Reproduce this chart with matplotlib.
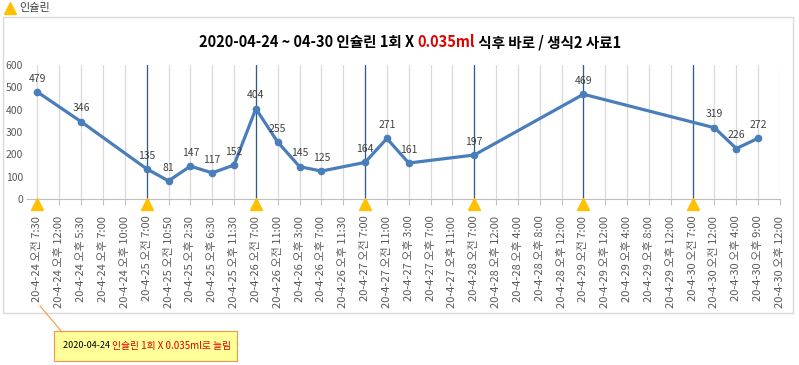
import matplotlib.pyplot as plt
from matplotlib.patches import Rectangle
from matplotlib.lines import Line2D
from matplotlib.text import Annotation

plt.rcParams['font.family'] = ['Noto Sans CJK KR', 'DejaVu Sans']

# x categories (time labels)
labels = [
    '20-4-24 오전 7:30', '20-4-24 오후 12:00', '20-4-24 오후 5:30', '20-4-24 오후 7:00',
    '20-4-24 오후 10:00', '20-4-25 오전 7:00', '20-4-25 오전 10:50', '20-4-25 오후 2:30',
    '20-4-25 오후 6:30', '20-4-25 오후 11:30', '20-4-26 오전 7:00', '20-4-26 오전 11:00',
    '20-4-26 오후 3:00', '20-4-26 오후 7:00', '20-4-26 오후 11:30', '20-4-27 오전 7:00',
    '20-4-27 오전 11:00', '20-4-27 오후 3:00', '20-4-27 오후 7:00', '20-4-27 오후 11:00',
    '20-4-28 오전 7:00', '20-4-28 오후 12:00', '20-4-28 오후 4:00', '20-4-28 오후 8:00',
    '20-4-28 오후 12:00', '20-4-29 오전 7:00', '20-4-29 오후 12:00', '20-4-29 오후 4:00',
    '20-4-29 오후 8:00', '20-4-29 오후 12:00', '20-4-30 오전 7:00', '20-4-30 오전 12:00',
    '20-4-30 오후 4:00', '20-4-30 오후 9:00', '20-4-30 오후 12:00',
]
# blood sugar readings (None = no reading)
glucose = [479, None, 346, None, None, 135, 81, 147, 117, 152, 404, 255, 145, 125, None,
           164, 271, 161, None, None, 197, None, None, None, None, 469, None, None, None,
           None, None, 319, 226, 272, None]
# insulin shots (category index)
insulin_idx = [0, 5, 10, 15, 20, 25, 30]

W, H = 799, 365
fig = plt.figure(figsize=(W / 100, H / 100), dpi=100)
ax = fig.add_axes([27 / W, 1 - 199 / H, (780 - 27) / W, (199 - 65) / H])

x = list(range(len(labels)))
# light vertical gridlines at every category
for i in x:
    ax.axvline(i, color='#d9d9d9', lw=0.9, zorder=0)
# dark lines at insulin shots
for i in insulin_idx:
    if i > 0:
        ax.axvline(i, color='#2e5c8a', lw=0.9, zorder=1)

px = [i for i, v in zip(x, glucose) if v is not None]
py = [v for v in glucose if v is not None]
ax.plot(px, py, color='#4a7ebb', lw=2.3, marker='o', ms=4.5, zorder=3)
for xi, yi in zip(px, py):
    ax.annotate(str(yi), (xi, yi), xytext=(0, 6), textcoords='offset points',
                ha='center', va='bottom', fontsize=7.5, color='#404040')

ax.plot(insulin_idx, [-22] * len(insulin_idx), linestyle='none', marker='^',
        ms=9, color='#ffc000', clip_on=False, zorder=4)

ax.set_xlim(-0.48, len(labels) - 1)
ax.set_ylim(0, 600)
ax.set_yticks(range(0, 601, 100))
ax.set_xticks(x)
ax.set_xticklabels(labels, rotation=90, fontsize=8, color='#595959')
ax.tick_params(axis='x', length=4, color='#bfbfbf', pad=8)
ax.tick_params(axis='y', length=0, labelsize=7.5, colors='#595959', pad=3)
for s in ['top', 'right', 'left']:
    ax.spines[s].set_visible(False)
ax.spines['bottom'].set_color('#bfbfbf')

# chart border and legend
fig.patches.append(Rectangle((3 / W, 1 - 313 / H), 790 / W, 296 / H, transform=fig.transFigure,
                             fill=False, ec='#d9d9d9', lw=1))
fig.add_artist(Line2D([10 / W], [1 - 8 / H], marker='^', ms=8, color='#ffc000',
                      transform=fig.transFigure))
fig.text(19 / W, 1 - 8 / H, '인슐린', fontsize=8, va='center', color='#404040')

# title with red part
parts = [('2020-04-24 ~ 04-30 인슐린 1회 X ', 'black'), ('0.035ml', '#e00000'),
         (' 식후 바로 / 생식2 사료1', 'black')]
t0 = fig.text(0, 1 - 42 / H, parts[0][0], fontsize=10.5, weight='bold', color=parts[0][1],
              va='center', ha='left')
prev = t0
texts = [t0]
for s, c in parts[1:]:
    t = Annotation(s, xy=(1, 0), xycoords=prev, fontsize=10.5, weight='bold', color=c,
                   va='bottom', ha='left', annotation_clip=False)
    fig.add_artist(t)
    texts.append(t)
    prev = t
fig.canvas.draw()
r = fig.canvas.get_renderer()
x0 = t0.get_window_extent(r).x0
x1 = texts[-1].get_window_extent(r).x1
t0.set_x((410 - (x1 - x0) / 2) / W)

# callout box
fig.add_artist(Line2D([40 / W, 62 / W], [1 - 306 / H, 1 - 332 / H], color='#f79646', lw=0.8,
                      transform=fig.transFigure))
fig.patches.append(Rectangle((54 / W, 1 - 361 / H), 183 / W, 30 / H, transform=fig.transFigure,
                             fc='#ffff99', ec='#f79646', lw=0.8))
c0 = fig.text(63 / W, 1 - 346 / H, '2020-04-24 ', fontsize=6.5, va='center', color='black',
              zorder=5)
c1 = Annotation('인슐린 1회 X 0.035ml로 늘림', xy=(1, 0), xycoords=c0, fontsize=7,
                color='#e00000', va='bottom', ha='left', annotation_clip=False, zorder=5)
fig.add_artist(c1)

fig.savefig('out.png', dpi=100)
